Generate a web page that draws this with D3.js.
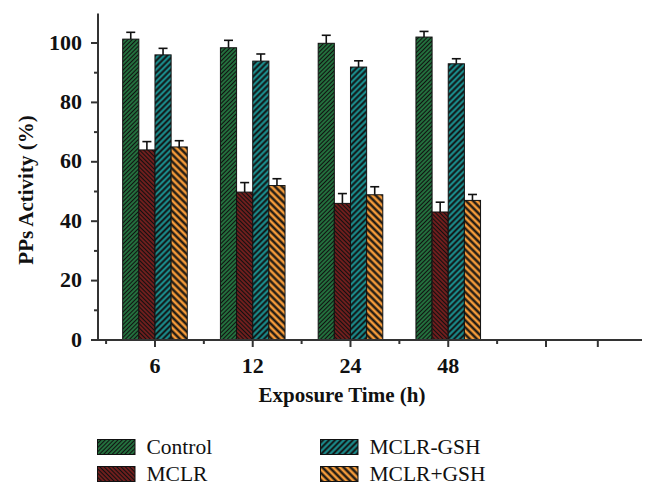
<!DOCTYPE html>
<html><head><meta charset="utf-8">
<script src="https://cdn.jsdelivr.net/npm/d3@7/dist/d3.min.js"></script>
<style>body{margin:0;background:#fff}svg{display:block}
.serif{font-family:"Liberation Serif","Times New Roman",Tinos,"DejaVu Serif",serif}</style>
</head><body><svg id="c" width="656" height="496"></svg>
<script>
const categories = ["6","12","24","48"];
const seriesNames = ["Control","MCLR","MCLR-GSH","MCLR+GSH"];
const control = [101.3, 98.4, 99.9, 102.0];
const mclr = [64.0, 49.8, 46.0, 43.1];
const mclrGsh = [96.0, 93.9, 91.9, 93.0];
const mclrPlusGsh = [65.0, 52.0, 48.9, 47.0];
const controlErr = [2.3, 2.5, 2.7, 1.9];
const mclrErr = [2.8, 3.2, 3.3, 3.3];
const mclrGshErr = [2.2, 2.4, 2.1, 1.7];
const mclrPlusGshErr = [2.1, 2.3, 2.7, 2.0];
const yTicks = [0,20,40,60,80,100];
const yMinorTicks = [10,30,50,70,90];
const xMajorTicks = [0,1,2,3,4,4.53];
const xMinorTicks = [-0.5,0.5,1.5,2.5,3.5];

const values = [control, mclr, mclrGsh, mclrPlusGsh];
const errs = [controlErr, mclrErr, mclrGshErr, mclrPlusGshErr];
const colors = ["#268246","#83201f","#1a8a8a","#f39a3a"];
const hatch = [{rot:45,p:3},{rot:-45,p:3},{rot:45,p:4.2},{rot:-45,p:5}];

const svg = d3.select("#c");
const defs = svg.append("defs");
hatch.forEach((h,i)=>{
  const pat = defs.append("pattern").attr("id","h"+i).attr("patternUnits","userSpaceOnUse")
    .attr("width",h.p).attr("height",h.p).attr("patternTransform",`rotate(${h.rot})`);
  pat.append("rect").attr("width",h.p).attr("height",h.p).attr("fill",colors[i]);
  pat.append("line").attr("x1",h.p/2).attr("x2",h.p/2).attr("y1",0).attr("y2",h.p)
    .attr("stroke","#111").attr("stroke-width",h.p*0.45);
});

const x = d3.scaleLinear().domain([-0.593, 4.982]).range([97, 642]);
const y = d3.scaleLinear().domain([0, 110]).range([340, 13.3]);
const bw = 16.15;
const axisCol = "#333";

// bars
values.forEach((vals,s)=>{
  const g = svg.append("g");
  vals.forEach((v,i)=>{
    const cx = x(i) + (s-1.5)*bw;
    g.append("rect").attr("x",cx-bw/2).attr("y",y(v)).attr("width",bw).attr("height",y(0)-y(v))
      .attr("fill",`url(#h${s})`).attr("stroke","#111").attr("stroke-width",1);
    const top = y(v+errs[s][i]);
    g.append("line").attr("x1",cx).attr("x2",cx).attr("y1",y(v)).attr("y2",top).attr("stroke","#111").attr("stroke-width",1.6);
    g.append("line").attr("x1",cx-4.5).attr("x2",cx+4.5).attr("y1",top).attr("y2",top).attr("stroke","#111").attr("stroke-width",1.6);
  });
});

// y axis
const ya = svg.append("g").attr("transform","translate(98,0)");
ya.append("line").attr("x1",0).attr("x2",0).attr("y1",13.5).attr("y2",y(0)).attr("stroke",axisCol).attr("stroke-width",2);
ya.selectAll(".mj").data(yTicks).join("line").attr("x1",-7).attr("x2",0).attr("y1",d=>y(d)).attr("y2",d=>y(d)).attr("stroke",axisCol).attr("stroke-width",2);
ya.selectAll(".mn").data(yMinorTicks).join("line").attr("x1",-4).attr("x2",0).attr("y1",d=>y(d)).attr("y2",d=>y(d)).attr("stroke",axisCol).attr("stroke-width",2);
ya.selectAll("text").data(yTicks).join("text").attr("class","serif").attr("x",-16).attr("y",d=>y(d)+6.5).attr("text-anchor","end")
  .attr("font-weight","bold").attr("font-size",22).attr("fill","#111").text(d=>d);

// x axis
const xa = svg.append("g").attr("transform",`translate(0,${y(0)})`);
xa.append("line").attr("x1",97).attr("x2",642).attr("y1",0).attr("y2",0).attr("stroke",axisCol).attr("stroke-width",2);
xa.selectAll(".mj").data(xMajorTicks).join("line").attr("x1",d=>x(d)).attr("x2",d=>x(d)).attr("y1",0).attr("y2",7).attr("stroke",axisCol).attr("stroke-width",2);
xa.selectAll(".mn").data(xMinorTicks).join("line").attr("x1",d=>x(d)).attr("x2",d=>x(d)).attr("y1",0).attr("y2",4).attr("stroke",axisCol).attr("stroke-width",2);
xa.selectAll("text").data(categories).join("text").attr("class","serif").attr("x",(d,i)=>x(i)).attr("y",32.5).attr("text-anchor","middle")
  .attr("font-weight","bold").attr("font-size",22).attr("fill","#111").text(d=>d);

// titles
svg.append("text").attr("class","serif").attr("x",342).attr("y",402).attr("text-anchor","middle")
  .attr("font-weight","bold").attr("font-size",21).attr("fill","#111").text("Exposure Time (h)");
svg.append("text").attr("class","serif").attr("transform","translate(33,190) rotate(-90)").attr("text-anchor","middle")
  .attr("font-weight","bold").attr("font-size",21).attr("fill","#111").text("PPs Activity (%)");

// legend
const lpos = [[97.5,439.5],[97.5,466.5],[320.5,439.5],[320.5,466.5]];
seriesNames.forEach((n,i)=>{
  const [lx,ly] = lpos[i];
  svg.append("rect").attr("x",lx).attr("y",ly).attr("width",37.5).attr("height",15)
    .attr("fill",`url(#h${i})`).attr("stroke","#111").attr("stroke-width",1);
  svg.append("text").attr("class","serif").attr("x",lx+49).attr("y",ly+14).attr("font-size",21.5)
    .attr("fill","#111").text(n);
});
</script></body></html>
